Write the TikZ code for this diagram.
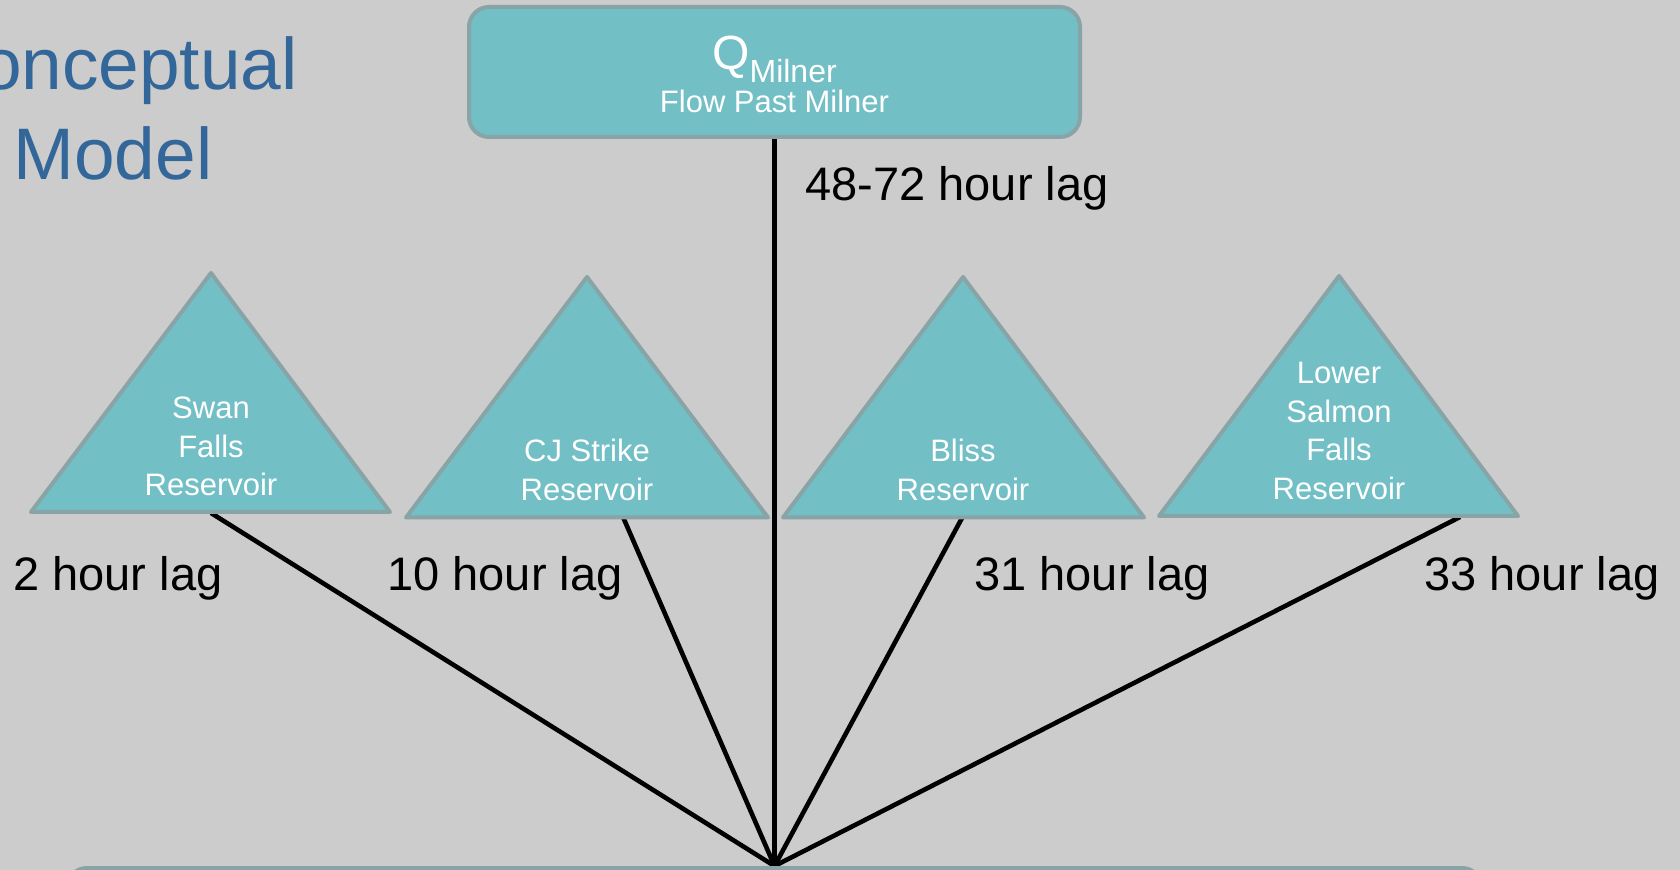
\documentclass[tikz,border=0pt]{standalone}
\usepackage{fontspec}
\setmainfont{Liberation Sans}
\usetikzlibrary{backgrounds}
\definecolor{bgc}{RGB}{204,204,204}
\definecolor{tealc}{RGB}{115,191,198}
\definecolor{bordc}{RGB}{137,164,167}
\definecolor{titlec}{RGB}{51,102,153}
\begin{document}
\begin{tikzpicture}[x=0.5pt,y=-0.5pt,
  tri/.style={draw=bordc,fill=tealc,line width=2pt,line join=round},
  boxc/.style={draw=bordc,fill=tealc,line width=2pt,rounded corners=10pt,inner sep=0pt},
  lbl/.style={anchor=base west,inner sep=0pt,text=black,font=\fontsize{23.5}{28}\selectfont},
  intext/.style={anchor=base,inner sep=0pt,text=white,font=\fontsize{15.5}{19.25}\selectfont},
  titletext/.style={anchor=base,inner sep=0pt,text=titlec,font=\fontsize{36.5}{44}\selectfont},
  conn/.style={line width=2.3pt,draw=black}]
\useasboundingbox (0,0) rectangle (1680,870);

% title
\node[titletext] (title1) at (113,90) {Conceptual};
\node[titletext] (title2) at (113,180) {Model};

% top box
\node[boxc,minimum width=305.5pt,minimum height=65pt] (q) at (774.5,72) {};
\node[anchor=base,inner sep=0pt,text=white,font=\fontsize{24}{28}\selectfont] (qsym) at (774.5,70)
  {Q\raisebox{-6.5pt}{\fontsize{16}{19}\selectfont Milner}};
\node[intext] (qname) at (774.5,113) {Flow Past Milner};

% bottom box
\node[boxc,minimum width=707.5pt,minimum height=50pt] (out) at (774.5,918) {};

% triangles
\draw[tri] (211,273) -- (390,512) -- (31,512) -- cycle;
\draw[tri] (587,277) -- (768,517.5) -- (406,517.5) -- cycle;
\draw[tri] (963,277) -- (1144,517.5) -- (783,517.5) -- cycle;
\draw[tri] (1339,276) -- (1518,516) -- (1159,516) -- cycle;

\node[intext] (swan) at (211,419) {\begin{tabular}[t]{@{}c@{}}Swan\\Falls\\Reservoir\end{tabular}};
\node[intext] (cj) at (587,461.7) {\begin{tabular}[t]{@{}c@{}}CJ Strike\\Reservoir\end{tabular}};
\node[intext] (bliss) at (963,461.7) {\begin{tabular}[t]{@{}c@{}}Bliss\\Reservoir\end{tabular}};
\node[intext] (lsf) at (1339,384) {\begin{tabular}[t]{@{}c@{}}Lower\\Salmon\\Falls\\Reservoir\end{tabular}};

\coordinate (swanb) at (211,513);
\coordinate (cjb) at (623,517);
\coordinate (blissb) at (962,518);
\coordinate (lsfb) at (1460,517);

% lag labels
\node[lbl] (lagq) at (805,201) {48-72 hour lag};
\node[lbl] (lag2) at (13,591) {2 hour lag};
\node[lbl] (lag10) at (387,591) {10 hour lag};
\node[lbl] (lag31) at (974,591) {31 hour lag};
\node[lbl] (lag33) at (1424,591) {33 hour lag};

\begin{scope}[on background layer]
  \fill[bgc] (0,0) rectangle (1680,870);
  \draw[conn] (q.south) -- (out.north);
  \draw[conn] (swanb) -- (out.north);
  \draw[conn] (cjb) -- (out.north);
  \draw[conn] (blissb) -- (out.north);
  \draw[conn] (lsfb) -- (out.north);
\end{scope}
\end{tikzpicture}
\end{document}
